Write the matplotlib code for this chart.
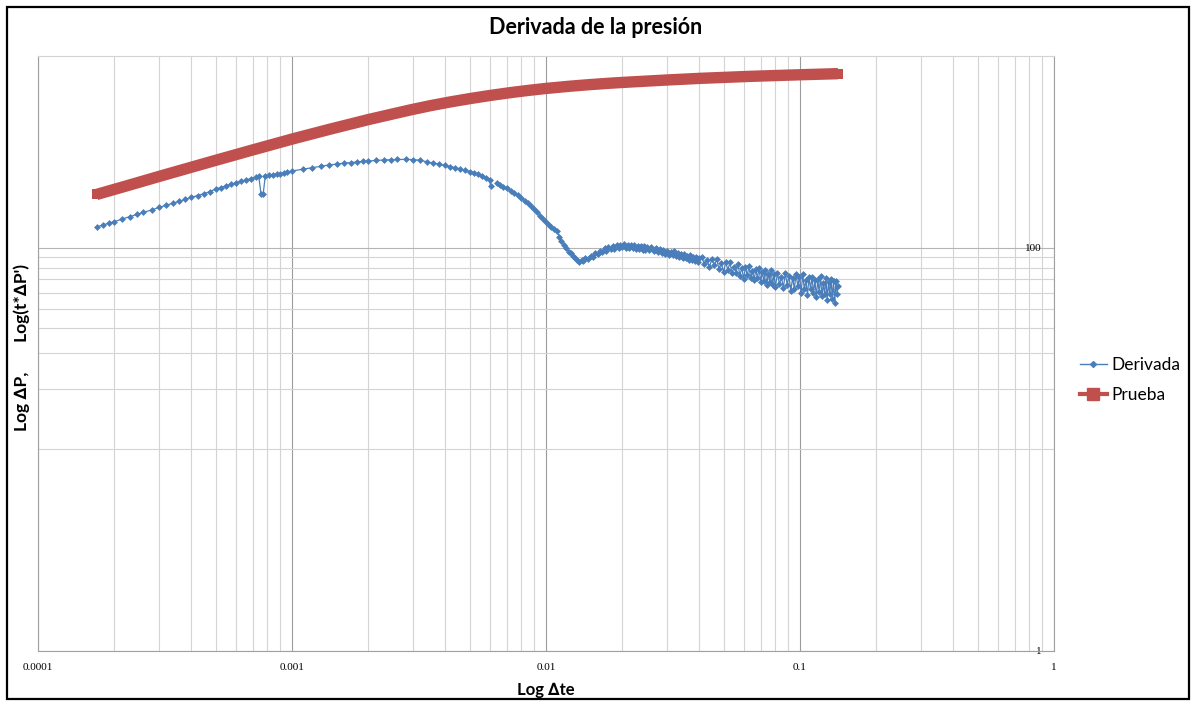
import matplotlib
matplotlib.use('Agg')
import matplotlib.pyplot as plt
from matplotlib.lines import Line2D
from matplotlib.patches import Rectangle
from matplotlib.ticker import FixedLocator, NullFormatter
import numpy as np

# ---------------- data ----------------
title_text = "Derivada de la presión"
x_label = "Log \u2206te"
y_label = "Log \u2206P,       Log(t*\u2206P')"
series_names = ["Derivada", "Prueba"]

x_ticks = [0.0001, 0.001, 0.01, 0.1, 1]
x_tick_labels = ["0.0001", "0.001", "0.01", "0.1", "1"]
y_ticks = [1, 100]
y_tick_labels = ["1", "100"]
y_minor = [10, 20, 30, 40, 50, 60, 70, 80, 90]

# Prueba (pressure change)
prueba_t = [1.7e-4, 2.303e-4, 3.022e-4, 3.966e-4, 4.887e-4, 6.833e-4, 1.0e-3,
            1.411e-3, 2.010e-3, 2.914e-3, 3.486e-3, 4.188e-3, 5.022e-3, 6.019e-3,
            7.218e-3, 8.495e-3, 0.01009, 0.01243, 0.01490, 0.01786, 0.02142,
            0.02941, 0.04040, 0.06356, 0.1000, 0.1411]
prueba_p = [184.3, 205.7, 227.2, 250.5, 270.0, 304.0, 347.1,
            388.7, 434.6, 484.0, 507.8, 530.4, 551.4, 571.3,
            589.9, 605.2, 619.8, 635.2, 646.9, 657.4, 666.4,
            681.1, 694.8, 710.8, 723.9, 733.1]

# Derivada (pressure derivative) -- early time
deriv_t_early = [1.7e-4, 1.8e-4, 1.9e-4, 2.0e-4, 2.15e-4, 2.3e-4, 2.45e-4, 2.6e-4,
                 2.8e-4, 3.0e-4, 3.2e-4, 3.4e-4, 3.6e-4, 3.8e-4, 4.0e-4, 4.25e-4,
                 4.5e-4, 4.75e-4, 5.0e-4, 5.25e-4, 5.5e-4, 5.75e-4, 6.0e-4, 6.3e-4,
                 6.6e-4, 6.9e-4, 7.2e-4, 7.4e-4, 7.55e-4, 7.7e-4, 7.85e-4, 8.1e-4,
                 8.4e-4, 8.7e-4, 9.0e-4, 9.3e-4, 9.6e-4]
deriv_v_early = [127.1, 130.0, 132.8, 135.1, 139.4, 143.1, 146.7, 150.1,
                 154.5, 159.0, 162.9, 166.8, 170.6, 174.2, 178.5, 182.0,
                 186.2, 190.2, 196.0, 199.5, 203.5, 207.0, 210.5, 214.0,
                 217.5, 221.0, 224.5, 226.4, 185.4, 185.4, 227.7, 229.0,
                 230.3, 231.8, 232.9, 235.5, 238.0]

# Derivada -- middle time (hump and fall)
deriv_t_mid = [1.0e-3, 1.1e-3, 1.2e-3, 1.3e-3, 1.4e-3, 1.5e-3, 1.6e-3, 1.7e-3,
               1.8e-3, 1.9e-3, 2.0e-3, 2.15e-3, 2.3e-3, 2.45e-3, 2.6e-3, 2.8e-3,
               3.0e-3, 3.2e-3, 3.4e-3, 3.6e-3, 3.8e-3, 4.0e-3, 4.2e-3, 4.4e-3,
               4.6e-3, 4.8e-3, 5.0e-3, 5.2e-3, 5.4e-3, 5.6e-3, 5.8e-3, 6.0e-3,
               6.05e-3, 6.2e-3, 6.4e-3, 6.6e-3, 6.8e-3, 7.0e-3, 7.25e-3, 7.5e-3,
               7.75e-3, 8.0e-3, 8.25e-3, 8.5e-3, 8.75e-3, 9.0e-3, 9.25e-3, 9.5e-3,
               9.75e-3]
deriv_v_mid = [241.1, 246.0, 250.3, 254.5, 258.2, 261.0, 263.5, 265.5,
               267.2, 268.8, 270.3, 272.0, 273.4, 274.3, 274.9, 275.2,
               274.6, 272.5, 267.5, 264.0, 260.5, 257.0, 253.5, 250.0,
               246.5, 243.0, 239.3, 235.5, 232.0, 228.0, 223.0, 218.0,
               203.0, np.nan, 209.2, 205.2, 201.6, 197.8, 192.5, 187.5,
               182.3, 177.1, 171.8, 166.3, 161.2, 156.1, 150.3, 144.5,
               139.5]

# Derivada -- dip and second hump
deriv_t_dip = [0.0100, 0.0103, 0.0105, 0.0108, 0.0110, 0.0113, 0.0115, 0.0118,
               0.0120, 0.0123, 0.0125, 0.0128, 0.0130, 0.0133, 0.0135, 0.0138,
               0.0140, 0.0143, 0.0146, 0.0150, 0.0153, 0.0156, 0.0160, 0.0163,
               0.0166, 0.0170, 0.0173, 0.0176, 0.0180, 0.0183, 0.0186, 0.0190,
               0.0193, 0.0196, 0.0200, 0.0203, 0.0206, 0.0210, 0.0213, 0.0216,
               0.0220, 0.0223, 0.0226, 0.0230, 0.0233, 0.0236, 0.0240, 0.0243,
               0.0246]
deriv_v_dip = [134.6, 130.0, 126.6, 124.5, 121.5, 114.0, 108.6, 103.5,
               100.0, 96.0, 94.3, 91.0, 89.5, 87.2, 85.5, 87.6,
               86.4, 89.0, 88.4, 91.6, 90.5, 94.0, 93.0, 96.8,
               95.2, 99.6, 97.0, 100.8, 98.4, 102.4, 99.1, 102.9,
               99.8, 104.0, 100.9, 104.6, 100.4, 104.0, 100.2, 103.6,
               99.5, 103.2, 99.0, 102.6, 98.6, 102.4, 98.2, 101.9,
               98.0]

# Derivada -- late time (noisy)
deriv_t_late = [0.0250, 0.0255, 0.0260, 0.0265, 0.0270, 0.0275, 0.0280, 0.0285,
                0.0290, 0.0295, 0.0300, 0.0305, 0.0310, 0.0315, 0.0320, 0.0325,
                0.0330, 0.0335, 0.0340, 0.0345, 0.0350, 0.0355, 0.0360, 0.0365,
                0.0370, 0.0375, 0.0380, 0.0385, 0.0390, 0.0395, 0.0400,
                0.041, 0.042, 0.043, 0.044, 0.045, 0.046, 0.047, 0.048,
                0.049, 0.050, 0.051, 0.052, 0.053, 0.054, 0.055, 0.056,
                0.057, 0.058, 0.059, 0.060, 0.061, 0.062, 0.063, 0.064,
                0.065, 0.066, 0.067, 0.068, 0.069, 0.070, 0.071, 0.072,
                0.073, 0.074, 0.075, 0.076, 0.077, 0.078, 0.079, 0.080,
                0.0815, 0.0830, 0.0845, 0.0860, 0.0875, 0.0890, 0.0905, 0.0920,
                0.0935, 0.0950, 0.0965, 0.0980, 0.0995, 0.1010, 0.1025, 0.1040,
                0.1055, 0.1070, 0.1085, 0.1100, 0.1115, 0.1130, 0.1145, 0.1160,
                0.1175, 0.1190, 0.1205, 0.1220, 0.1235, 0.1250, 0.1265, 0.1280,
                0.1295, 0.1310, 0.1325, 0.1340, 0.1355, 0.1370, 0.1385, 0.1400,
                0.1410]
deriv_v_late = [101.5, 98.2, 100.9, 97.0, 99.6, 95.3, 98.7, 94.8,
                97.9, 93.6, 96.8, 92.1, 95.9, 91.8, 96.2, 90.9,
                94.0, 90.2, 93.5, 88.7, 92.9, 89.6, 91.4, 87.3,
                92.2, 86.9, 90.1, 86.2, 89.8, 84.8, 89.0,
                90.4, 83.3, 86.9, 80.9, 87.8, 82.1, 87.7, 78.9,
                84.2, 76.0, 84.9, 78.0, 84.8, 75.0, 80.6, 75.4,
                83.2, 72.9, 79.9, 70.4, 80.6, 73.1, 81.1, 70.6,
                77.1, 69.4, 78.3, 70.8, 79.8, 67.7, 76.2, 68.5,
                77.8, 65.7, 74.7, 68.0, 77.4, 65.7, 74.3, 63.7,
                75.3, 65.9, 72.0, 63.2, 75.1, 65.8, 73.0, 60.9,
                71.3, 62.9, 74.2, 64.7, 72.0, 60.1, 73.9, 62.3,
                69.2, 58.3, 71.7, 62.5, 72.0, 59.6, 69.1, 56.8,
                70.1, 60.3, 72.3, 57.7, 66.8, 58.8, 70.9, 55.1,
                67.9, 58.9, 70.5, 56.0, 68.4, 53.4, 68.9, 58.8,
                64.6]

derivada_t = deriv_t_early + deriv_t_mid + deriv_t_dip + deriv_t_late
derivada_v = deriv_v_early + deriv_v_mid + deriv_v_dip + deriv_v_late

# ---------------- style ----------------
blue = '#4A7EBB'
red = '#C0504D'
W, H = 1192, 701
font_sans = ['Lato', 'DejaVu Sans']
font_serif = ['Liberation Serif', 'DejaVu Serif']

fig = plt.figure(figsize=(W / 100, H / 100), dpi=100)
fig.patch.set_facecolor('white')

# outer frame
fig.patches.append(Rectangle((7 / W, 2 / H), 1182 / W, 692 / H, transform=fig.transFigure,
                             fill=False, edgecolor='black', linewidth=1.6, zorder=10))

ax = fig.add_axes([38 / W, 50 / H, 1016 / W, 595 / H])
ax.set_xscale('log')
ax.set_yscale('log')
ax.set_xlim(1e-4, 1)
ax.set_ylim(1, 897)

# grid
ax.xaxis.set_major_locator(FixedLocator(x_ticks))
ax.xaxis.set_minor_locator(FixedLocator([d * k for d in x_ticks[:-1] for k in range(2, 10)]))
ax.xaxis.set_minor_formatter(NullFormatter())
ax.set_xticks(x_ticks, x_tick_labels)
ax.yaxis.set_major_locator(FixedLocator(y_ticks))
ax.yaxis.set_minor_locator(FixedLocator(y_minor))
ax.yaxis.set_minor_formatter(NullFormatter())
ax.set_yticks(y_ticks, y_tick_labels)

ax.grid(which='major', axis='x', color='#9C9C9C', linewidth=0.8, zorder=0)
ax.grid(which='minor', axis='x', color='#D4D4D4', linewidth=0.8, zorder=0)
ax.grid(which='major', axis='y', color='#B4B4B4', linewidth=0.8, zorder=0)
ax.grid(which='minor', axis='y', color='#D4D4D4', linewidth=0.8, zorder=0)
ax.set_axisbelow(True)

for side in ['left', 'bottom', 'right']:
    ax.spines[side].set_color('#A0A0A0')
    ax.spines[side].set_linewidth(0.8)
ax.spines['top'].set_color('#D4D4D4')
ax.spines['top'].set_linewidth(0.8)

ax.tick_params(axis='x', which='both', length=0, pad=9, labelsize=8)
for lab in ax.get_xticklabels():
    lab.set_fontfamily(font_serif)
ax.yaxis.set_ticks_position('right')
ax.tick_params(axis='y', which='both', length=0, pad=-9, labelsize=8,
               labelright=True, labelleft=False)
for lab in ax.get_yticklabels():
    lab.set_fontfamily(font_serif)
    lab.set_horizontalalignment('right')

# data
ax.plot(derivada_t, derivada_v, color=blue, linewidth=0.9, marker='D', markersize=3,
        markeredgewidth=0.5, markeredgecolor=blue, markerfacecolor=blue, zorder=3)
ax.plot(prueba_t, prueba_p, color=red, linewidth=8.2, marker='s', markersize=7.8,
        markevery=[0, len(prueba_t) - 1], markeredgewidth=0,
        solid_capstyle='butt', solid_joinstyle='round', zorder=4)

# texts
fig.text(596 / W, 1 - 27 / H, title_text, ha='center', va='center', fontsize=15.5,
         fontweight='bold', family=font_sans)
fig.text(546 / W, 1 - 690 / H, x_label, ha='center', va='center', fontsize=12,
         fontweight='bold', family=font_sans)
fig.text(22 / W, 1 - 347 / H, y_label, ha='center', va='center', fontsize=12.5,
         fontweight='bold', rotation=90, family=font_sans)

handles = [Line2D([], [], color=blue, linewidth=1.0, marker='D', markersize=3),
           Line2D([], [], color=red, linewidth=3, marker='s', markersize=8)]
fig.legend(handles, series_names, loc='center left',
           bbox_to_anchor=(1071 / W, 1 - 380 / H), frameon=False,
           handlelength=1.55, handletextpad=0.3, labelspacing=0.85, borderpad=0,
           prop={'family': font_sans, 'size': 12.5})

fig.savefig('out.png', dpi=100, facecolor='white')
